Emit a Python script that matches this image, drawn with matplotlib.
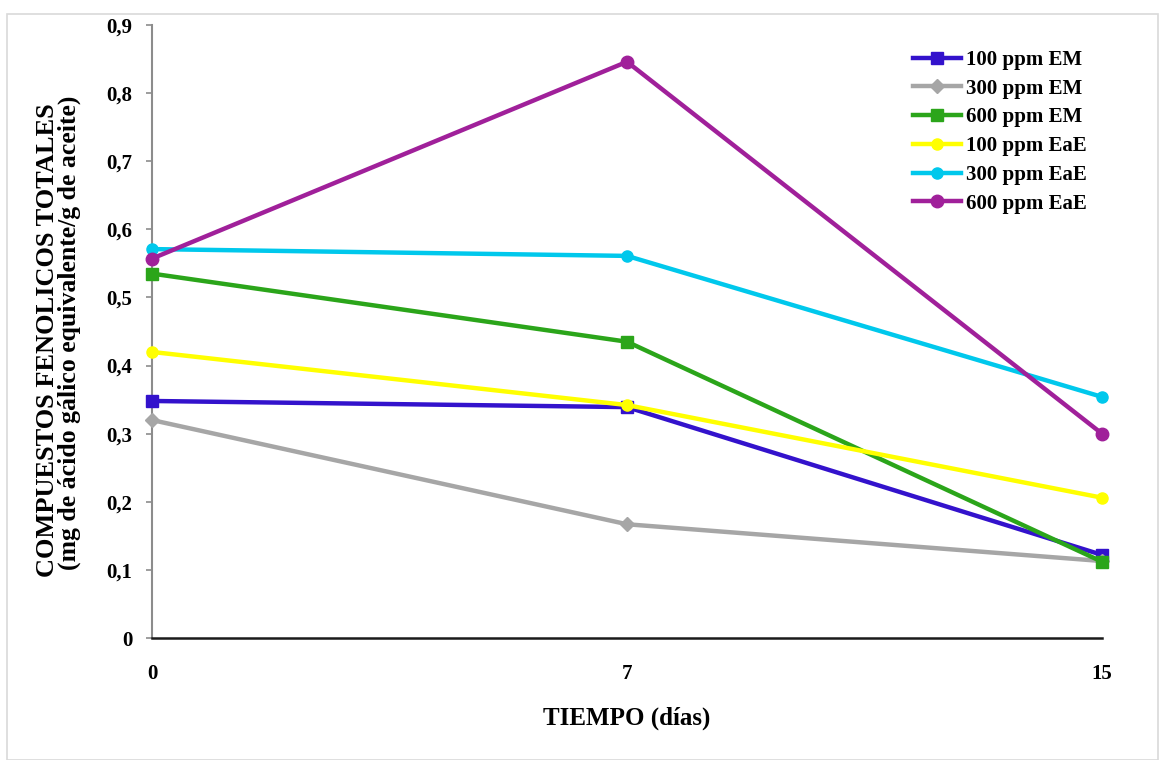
import numpy as np
import matplotlib.pyplot as plt
from matplotlib.patches import Rectangle

dias = ['0', '7', '15']
series_names = ['100 ppm EM', '300 ppm EM', '600 ppm EM',
                '100 ppm EaE', '300 ppm EaE', '600 ppm EaE']
em_100 = [0.348, 0.339, 0.122]
em_300 = [0.320, 0.167, 0.113]
em_600 = [0.535, 0.435, 0.112]
eae_100 = [0.420, 0.342, 0.206]
eae_300 = [0.571, 0.561, 0.354]
eae_600 = [0.557, 0.846, 0.300]

colores = ['#3312CC', '#A6A6A6', '#2BA51A', '#FFFF00', '#00C8EC', '#A0209A']
marcas = ['s', 'D', 's', 'o', 'o', 'o']
tamanos = [8, 7, 8, 8, 8, 9]

plt.rcParams['font.family'] = ['Liberation Serif', 'DejaVu Serif']
plt.rcParams['font.weight'] = 'bold'

fig = plt.figure(figsize=(11.61, 7.60), dpi=100)
fig.patches.append(Rectangle((7 / 1161, 0), 1151 / 1161, 1 - 14 / 760,
                             transform=fig.transFigure, fill=False,
                             edgecolor='#D9D9D9', linewidth=1.2))
ax = fig.add_axes([152 / 1161, 1 - 638 / 760, 950 / 1161, 613 / 760])

x = np.arange(len(dias))
todos = [em_100, em_300, em_600, eae_100, eae_300, eae_600]
for vals, nombre, c, m, ms in zip(todos, series_names, colores, marcas, tamanos):
    ax.plot(x, vals, color=c, marker=m, markersize=ms, linewidth=3.2,
            label=nombre, clip_on=False, zorder=3)

ax.set_xlim(0, 2)
ax.set_ylim(0, 0.9)
ax.set_xticks(x)
ax.set_xticklabels(dias, fontsize=15, fontweight='bold')
ax.tick_params(axis='x', length=0, pad=19)
yt = np.arange(0, 0.91, 0.1)
ax.set_yticks(yt)
ax.set_yticklabels(['0' if v == 0 else ('%.1f' % v).replace('.', ',') for v in yt],
                   fontsize=15, fontweight='bold')
ax.tick_params(axis='y', length=4, width=1.2, color='#8C8C8C', pad=10)

for s in ['top', 'right']:
    ax.spines[s].set_visible(False)
ax.spines['left'].set_color('#8C8C8C')
ax.spines['left'].set_linewidth(1.5)
ax.spines['bottom'].set_color('#1A1A1A')
ax.spines['bottom'].set_linewidth(1.8)

ax.set_xlabel('TIEMPO (días)', fontsize=18, fontweight='bold', labelpad=16)
fig.text(48 / 1161, 1 - 340 / 760, 'COMPUESTOS FENOLICOS TOTALES', rotation=90,
         ha='center', va='center', fontsize=19, fontweight='bold')
fig.text(69 / 1161, 1 - 333 / 760, '(mg de ácido gálico equivalente/g de aceite)',
         rotation=90, ha='center', va='center', fontsize=18.5, fontweight='bold')

leg = ax.legend(loc='upper right', bbox_to_anchor=(1.004, 0.99), frameon=False,
                prop={'family': 'Liberation Serif', 'weight': 'bold', 'size': 15},
                handlelength=2.3, handletextpad=0.25, labelspacing=0.42)

fig.savefig('out.png', dpi=100)
